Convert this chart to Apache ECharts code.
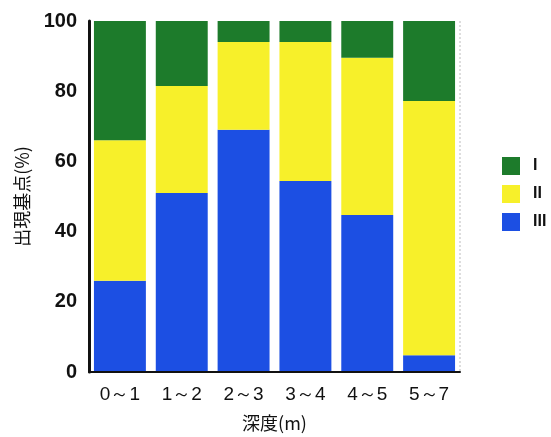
<!DOCTYPE html>
<html><head><meta charset="utf-8">
<script src="https://cdn.jsdelivr.net/npm/echarts@6/dist/echarts.min.js"></script>
<style>html,body{margin:0;padding:0;background:#fff}#c{width:551px;height:437px}</style>
</head><body><div id="c"></div>
<script>
const categories = ['0～1','1～2','2～3','3～4','4～5','5～7'];
const seriesI = [34, 18.5, 6, 6, 10.5, 22.8];
const seriesII = [40, 30.5, 25, 39.6, 44.8, 72.4];
const seriesIII = [26, 51, 69, 54.4, 44.7, 4.8];
const yTicks = [0, 20, 40, 60, 80, 100];

const chart = echarts.init(document.getElementById('c'));
const fontFam = '"Liberation Sans Narrow", "Liberation Sans", Arial, sans-serif';
chart.setOption({
  backgroundColor: '#fff',
  animation: false,
  grid: { left: 89, right: 91, top: 21, bottom: 65 },
  legend: {
    orient: 'vertical', left: 502, top: 157, padding: 0,
    itemWidth: 18, itemHeight: 18, itemGap: 10,
    data: ['I','II','III'],
    icon: 'rect',
    textStyle: { fontSize: 16, fontWeight: 'bold', color: '#111', fontFamily: fontFam, padding: [0,0,0,8] }
  },
  xAxis: {
    type: 'category', data: categories,
    name: '深度(m)', nameLocation: 'middle', nameGap: 42,
    nameTextStyle: { fontSize: 18, color: '#111', fontFamily: '"Noto Sans CJK JP", sans-serif' },
    axisLine: { lineStyle: { color: '#111', width: 2 } },
    axisTick: { show: false },
    axisLabel: { fontSize: 19, color: '#111', margin: 13, fontFamily: fontFam },
    z: 10
  },
  yAxis: {
    type: 'value', min: 0, max: 100, interval: 20,
    name: '出現基点(%)', nameLocation: 'middle', nameGap: 58,
    nameTextStyle: { fontSize: 18, color: '#111', fontFamily: '"Noto Sans CJK JP", sans-serif' },
    axisLine: { show: true, lineStyle: { color: '#111', width: 3 } },
    axisTick: { show: false },
    splitLine: { show: false },
    axisLabel: { fontSize: 20, fontWeight: 'bold', color: '#111', margin: 12, fontFamily: fontFam,
      formatter: v => yTicks.includes(v) ? String(v) : '' }
  },
  series: [
    { name: 'III', type: 'bar', stack: 't', data: seriesIII, barCategoryGap: '16%',
      itemStyle: { color: '#1c4fe3' } },
    { name: 'II', type: 'bar', stack: 't', data: seriesII,
      itemStyle: { color: '#f7f02a' } },
    { name: 'I', type: 'bar', stack: 't', data: seriesI,
      itemStyle: { color: '#1d7b2b' } }
  ],
  graphic: [{
    type: 'line', shape: { x1: 460, y1: 21, x2: 460, y2: 372 },
    style: { stroke: '#bbb', lineWidth: 1, lineDash: [2, 2] }
  }]
});
</script></body></html>
